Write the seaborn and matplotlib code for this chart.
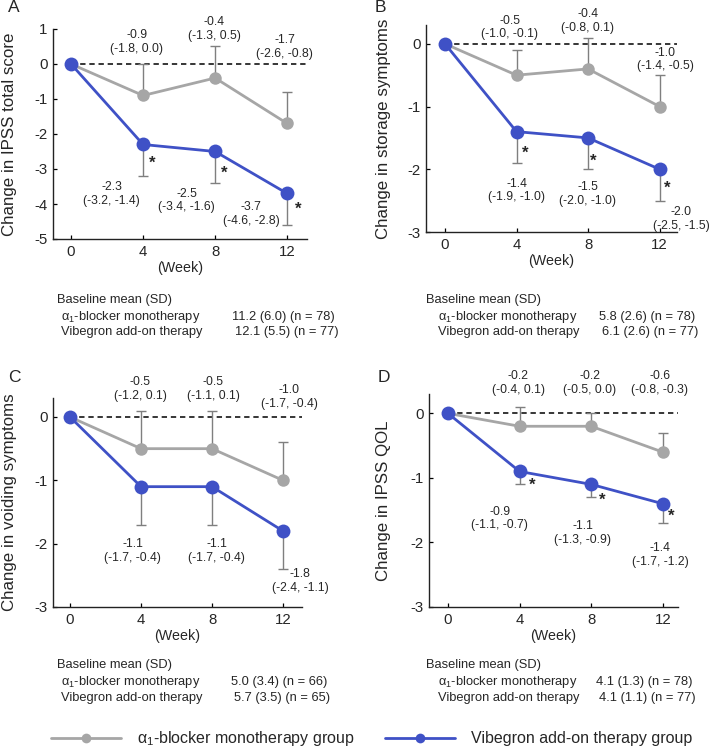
import numpy as np
import pandas as pd
import matplotlib
matplotlib.use("Agg")
import matplotlib.pyplot as plt
import seaborn as sns
from matplotlib.lines import Line2D

# ---------------- data ----------------
weeks = [0, 4, 8, 12]
groups = ["α$_1$-blocker monotherapy group", "Vibegron add-on therapy group"]

ylabels = ["Change in IPSS total score", "Change in storage symptoms",
           "Change in voiding symptoms", "Change in IPSS QOL"]
panel_letters = ["A", "B", "C", "D"]

# mean change, CI lower, CI upper (weeks 4, 8, 12; week 0 = 0)
mono_A = [0, -0.9, -0.4, -1.7]
mono_A_lo = [-1.8, -1.3, -2.6]
mono_A_hi = [0.0, 0.5, -0.8]
vib_A = [0, -2.3, -2.5, -3.7]
vib_A_lo = [-3.2, -3.4, -4.6]
vib_A_hi = [-1.4, -1.6, -2.8]

mono_B = [0, -0.5, -0.4, -1.0]
mono_B_lo = [-1.0, -0.8, -1.4]
mono_B_hi = [-0.1, 0.1, -0.5]
vib_B = [0, -1.4, -1.5, -2.0]
vib_B_lo = [-1.9, -2.0, -2.5]
vib_B_hi = [-1.0, -1.0, -1.5]

mono_C = [0, -0.5, -0.5, -1.0]
mono_C_lo = [-1.2, -1.1, -1.7]
mono_C_hi = [0.1, 0.1, -0.4]
vib_C = [0, -1.1, -1.1, -1.8]
vib_C_lo = [-1.7, -1.7, -2.4]
vib_C_hi = [-0.4, -0.4, -1.1]

mono_D = [0, -0.2, -0.2, -0.6]
mono_D_lo = [-0.4, -0.5, -0.8]
mono_D_hi = [0.1, 0.0, -0.3]
vib_D = [0, -0.9, -1.1, -1.4]
vib_D_lo = [-1.1, -1.3, -1.7]
vib_D_hi = [-0.7, -0.9, -1.2]

significant = [True, True, False, True]

baseline_mono = ["11.2 (6.0) (n = 78)", "5.8 (2.6) (n = 78)", "5.0 (3.4) (n = 66)", "4.1 (1.3) (n = 78)"]
baseline_vib = ["12.1 (5.5) (n = 77)", "6.1 (2.6) (n = 77)", "5.7 (3.5) (n = 65)", "4.1 (1.1) (n = 77)"]

# ---------------- styling / layout ----------------
sns.set_style("ticks")
plt.rcParams["font.family"] = ["Liberation Sans", "DejaVu Sans"]
plt.rcParams["mathtext.fontset"] = "custom"
plt.rcParams["mathtext.rm"] = "Liberation Sans"
plt.rcParams["mathtext.it"] = "Liberation Sans:italic"
plt.rcParams["mathtext.default"] = "regular"
plt.rcParams["axes.unicode_minus"] = False

GRAY = "#A6A6A6"
BLUE = "#3F51C6"
ERR = "#7F7F7F"

W, H = 709, 752
fig = plt.figure(figsize=(W / 100, H / 100), dpi=100)

def px_axes(l, t, r, b):
    return fig.add_axes([l / W, 1 - b / H, (r - l) / W, (b - t) / H])

axes_px = [(53, 29, 307, 239), (426, 25, 677, 232), (53, 398, 302, 607), (429, 394, 678, 607)]
ylims = [(-5, 1), (-3, 0.3), (-3, 0.3), (-3, 0.3)]
xlims = [(-1.0, 13.1), (-1.06, 12.97), (-0.96, 13.07), (-1.06, 12.85)]
ylab_x = [17, 391, 17, 391]

series = [
    (mono_A, mono_A_lo, mono_A_hi, vib_A, vib_A_lo, vib_A_hi),
    (mono_B, mono_B_lo, mono_B_hi, vib_B, vib_B_lo, vib_B_hi),
    (mono_C, mono_C_lo, mono_C_hi, vib_C, vib_C_lo, vib_C_hi),
    (mono_D, mono_D_lo, mono_D_hi, vib_D, vib_D_lo, vib_D_hi),
]

# annotation positions (data coords): gray labels, blue labels, asterisks
gray_lab_pos = [
    [(3.65, 0.63), (7.95, 1.0), (11.85, 0.49)],
    [(3.63, 0.26), (7.97, 0.37), (12.3, -0.25)],
    [(3.94, 0.44), (8.06, 0.44), (12.35, 0.31)],
    [(3.93, 0.47), (7.93, 0.47), (11.84, 0.47)],
]
blue_lab_pos = [
    [(2.26, -3.71), (6.43, -3.9), (10.0, -4.29)],
    [(4.0, -2.34), (7.97, -2.40), (13.2, -2.79)],
    [(3.53, -2.12), (8.26, -2.12), (12.96, -2.59)],
    [(2.9, -1.63), (7.54, -1.85), (11.84, -2.19)],
]
star_pos = [
    [(4.48, -2.85), (8.5, -3.11), (12.6, -4.14)],
    [(4.5, -1.75), (8.3, -1.87), (12.4, -2.31)],
    [],
    [(4.7, -1.11), (8.6, -1.34), (12.46, -1.59)],
]
letter_px = [(8, 8), (375, 8), (8, 377), (378, 377)]
base_px = [
    (57, 61, 232, 300, 317, 332),
    (426, 438, 599, 300, 317, 332),
    (57, 61, 231, 665, 682, 698),
    (426, 438, 596, 665, 682, 698),
]
FS_ANN = 8.7
FS_BASE = 9.3

for i in range(4):
    l, t, r, b = axes_px[i]
    ax = px_axes(l, t, r, b)
    m, mlo, mhi, v, vlo, vhi = series[i]
    df = pd.DataFrame({"week": weeks * 2, "value": m + v,
                       "group": [groups[0]] * 4 + [groups[1]] * 4})

    ax.hlines(0, 0, xlims[i][1], colors="black", linestyles=(0, (3.5, 2.5)), lw=1.1, zorder=1)

    # one-sided error bars: up for monotherapy, down for vibegron
    mv = np.array(m[1:]); vv = np.array(v[1:])
    ax.errorbar(weeks[1:], mv, yerr=[np.zeros(3), np.array(mhi) - mv], fmt="none",
                ecolor=ERR, elinewidth=1.0, capsize=3.5, capthick=1.0, zorder=2)
    ax.errorbar(weeks[1:], vv, yerr=[vv - np.array(vlo), np.zeros(3)], fmt="none",
                ecolor=ERR, elinewidth=1.0, capsize=3.5, capthick=1.0, zorder=2)

    sns.lineplot(data=df[df.group == groups[0]], x="week", y="value", color=GRAY,
                 lw=2.0, marker="o", markersize=9, markeredgewidth=0, ax=ax,
                 legend=False, zorder=3)
    sns.lineplot(data=df[df.group == groups[1]], x="week", y="value", color=BLUE,
                 lw=2.0, marker="o", markersize=10, markeredgewidth=0, ax=ax,
                 legend=False, zorder=4)

    for k in range(3):
        gx, gy = gray_lab_pos[i][k]
        ax.text(gx, gy, f"{m[k+1]:.1f}\n({mlo[k]:.1f}, {mhi[k]:.1f})", ha="center",
                va="center", fontsize=FS_ANN, linespacing=1.2)
        bx, by = blue_lab_pos[i][k]
        ax.text(bx, by, f"{v[k+1]:.1f}\n({vlo[k]:.1f}, {vhi[k]:.1f})", ha="center",
                va="center", fontsize=FS_ANN, linespacing=1.2)
    if significant[i]:
        for sx, sy in star_pos[i]:
            ax.text(sx, sy, "*", ha="center", va="center", fontsize=12, fontweight="bold")

    ax.set_xlim(*xlims[i])
    ax.set_ylim(*ylims[i])
    ax.set_xticks(weeks)
    lo_t = int(np.ceil(ylims[i][0])); hi_t = int(np.floor(ylims[i][1]))
    ax.set_yticks(range(lo_t, hi_t + 1))
    ax.tick_params(direction="in", length=3, width=0.9, labelsize=10.8, pad=4, color="black")
    for s in ["top", "right"]:
        ax.spines[s].set_visible(False)
    for s in ["left", "bottom"]:
        ax.spines[s].set_linewidth(1.0)
        ax.spines[s].set_color("#222222")
    ax.set_xlabel("(Week)", fontsize=10.3, labelpad=1.5)
    ax.set_ylabel(ylabels[i], fontsize=12.2)
    ax.yaxis.set_label_coords((ylab_x[i] - l) / (r - l), 0.5)
    ax.yaxis.label.set_va("bottom")

    fig.text(letter_px[i][0] / W, 1 - letter_px[i][1] / H, panel_letters[i],
             fontsize=12.5, ha="left", va="center")
    bx0, bx1, bx2, y0, y1, y2 = base_px[i]
    fig.text(bx0 / W, 1 - y0 / H, "Baseline mean (SD)", fontsize=FS_BASE, va="center")
    fig.text(bx1 / W, 1 - y1 / H, "α$_1$-blocker monotherapy", fontsize=FS_BASE, va="center")
    fig.text(bx1 / W, 1 - y2 / H, "Vibegron add-on therapy", fontsize=FS_BASE, va="center")
    fig.text(bx2 / W, 1 - y1 / H, baseline_mono[i], fontsize=FS_BASE, va="center")
    fig.text((bx2 + 3) / W, 1 - y2 / H, baseline_vib[i], fontsize=FS_BASE, va="center")

handles = [Line2D([], [], color=GRAY, lw=2.0, marker="o", markersize=7, markeredgewidth=0),
           Line2D([], [], color=BLUE, lw=2.0, marker="o", markersize=7, markeredgewidth=0)]
fig.legend(handles, groups, loc="center left", bbox_to_anchor=(51 / W, 1 - 739 / H),
           ncol=2, frameon=False, fontsize=11.5, handlelength=4.4, handletextpad=1.0,
           columnspacing=1.9, borderpad=0, borderaxespad=0)

fig.savefig("out.png", dpi=100)
